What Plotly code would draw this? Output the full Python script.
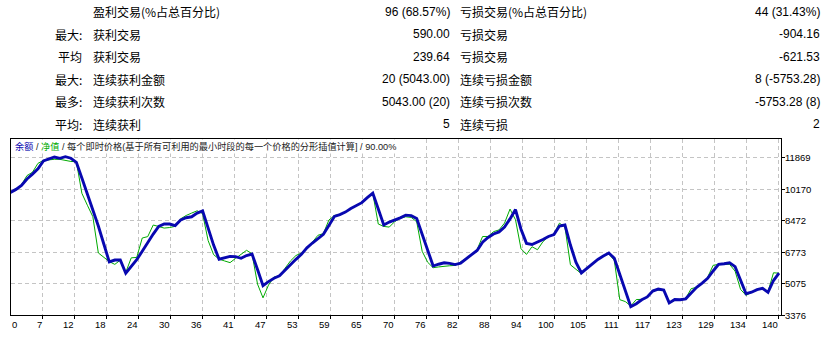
import plotly.graph_objects as go

# ---------------- data ----------------
trade_no = list(range(141))
balance = [
    10000, 10160, 10371, 10723, 10984, 11265, 11697, 11787, 11907, 11832,
    11922, 11840, 11620, 10777, 9924, 9100, 8187, 7217, 6248, 6352,
    6360, 5643, 6012, 6374, 6825, 7300, 7751, 8160, 8295, 8295,
    8210, 8514, 8634, 8684, 8880, 9000, 8076, 7157, 6396, 6467,
    6549, 6535, 6448, 6597, 6677, 5839, 4968, 5191, 5374, 5499,
    5804, 6136, 6392, 6659, 7011, 7271, 7503, 7737, 8215, 8704,
    8800, 8936, 9130, 9298, 9444, 9714, 9958, 9100, 8241, 8401,
    8510, 8627, 8774, 8746, 8590, 7695, 6849, 6030, 6127, 6206,
    6175, 6106, 6180, 6431, 6648, 6870, 7313, 7566, 7755, 7870,
    8134, 8571, 9072, 8015, 7250, 7190, 7306, 7456, 7624, 7726,
    8189, 8241, 7160, 6238, 5659, 5900, 6155, 6385, 6568, 6736,
    6445, 5612, 4700, 3838, 3995, 4209, 4365, 4682, 4786, 4740,
    4043, 4225, 4215, 4263, 4580, 4885, 5110, 5370, 5765, 6123,
    6150, 6200, 5997, 5312, 4540, 4620, 4759, 4834, 4613, 5250,
    5643,
]
equity = [
    10000, 10160, 10413, 10904, 11083, 11562, 11727, 11762, 11780, 11780,
    11723, 11666, 11657, 9952, 9307, 8691, 6736, 6494, 6268, 6120,
    6344, 5692, 6472, 6495, 7540, 7615, 8241, 8158, 8075, 8105,
    8169, 8574, 8754, 8884, 9007, 8853, 7403, 6645, 6402, 6303,
    6213, 6443, 6654, 6877, 6692, 5058, 4316, 5004, 5435, 5495,
    5903, 6302, 6597, 6732, 7024, 7316, 7686, 7780, 8509, 8751,
    8819, 8931, 9112, 9303, 9422, 9755, 9950, 8295, 8165, 8129,
    8425, 8610, 8684, 8650, 8416, 6822, 6232, 5940, 5982, 6025,
    6045, 6063, 6233, 6444, 6648, 6913, 7622, 7622, 7883, 7977,
    8344, 9100, 8523, 6962, 6655, 7070, 6908, 7343, 7622, 7768,
    8339, 8145, 6098, 5880, 5617, 5886, 6156, 6374, 6567, 6689,
    6330, 4217, 4114, 3877, 4225, 4232, 4365, 4732, 4729, 4703,
    4026, 4172, 4172, 4287, 4810, 4885, 5110, 5424, 6068, 6120,
    6120, 6120, 5756, 4771, 4451, 4602, 4759, 4840, 4650, 5667,
    5643,
]
x_tick_labels = ["0", "7", "12", "18", "24", "30", "36", "41", "47", "53", "59", "65",
                 "70", "76", "82", "88", "94", "100", "105", "111", "117", "123",
                 "129", "134", "140"]
y_tick_values = [3376, 5075, 6773, 8472, 10170, 11869]

row_heads = ["", "最大:", "平均", "最大:", "最多:", "平均:"]
win_labels = ["盈利交易(%占总百分比)", "获利交易", "获利交易", "连续获利金额", "连续获利次数", "连续获利"]
win_values = ["96 (68.57%)", "590.00", "239.64", "20 (5043.00)", "5043.00 (20)", "5"]
loss_labels = ["亏损交易(%占总百分比)", "亏损交易", "亏损交易", "连续亏损金额", "连续亏损次数", "连续亏损"]
loss_values = ["44 (31.43%)", "-904.16", "-621.53", "8 (-5753.28)", "-5753.28 (8)", "2"]

# ---------------- layout geometry ----------------
W, H = 828, 339
PL, PR, PT, PB = 10.5, 781.0, 141.5, 320.0
px_per_trade = (779.0 - PL) / 140.0
x_max = (PR - PL) / px_per_trade
val_per_px = (y_tick_values[1] - y_tick_values[0]) / 32.0
y_min = y_tick_values[0]
y_max = y_min + (PB - PT) * val_per_px
grid_vals = [(42 + 32 * k - PL) / px_per_trade for k in range(len(x_tick_labels) - 1)]

BLUE = "#0808b0"
GREEN = "#00aa00"
LAT = "Liberation Sans, Noto Sans CJK SC"
CJK = "Noto Sans CJK SC, Liberation Sans"

fig = go.Figure()
fig.add_trace(go.Scatter(x=trade_no, y=equity, mode="lines",
                         line=dict(color=GREEN, width=1), hoverinfo="skip"))
fig.add_trace(go.Scatter(x=trade_no, y=balance, mode="lines",
                         line=dict(color=BLUE, width=2.9), hoverinfo="skip"))

def px2x(px):
    return px / W

def py2y(py):
    return 1 - py / H

ann = []
row_y = [11.7 + 22.9 * r for r in range(6)]
for r in range(6):
    yy = py2y(row_y[r])
    if row_heads[r]:
        ann.append(dict(text=row_heads[r], x=px2x(84), y=yy, xanchor="right", yanchor="middle",
                        font=dict(family=CJK, size=12, color="#000")))
    ann.append(dict(text=win_labels[r], x=px2x(91), y=yy, xanchor="left", yanchor="middle",
                    font=dict(family=CJK, size=12, color="#000")))
    ann.append(dict(text=win_values[r], x=px2x(452), y=yy, xanchor="right", yanchor="middle",
                    font=dict(family=LAT, size=12, color="#000")))
    ann.append(dict(text=loss_labels[r], x=px2x(458), y=yy, xanchor="left", yanchor="middle",
                    font=dict(family=CJK, size=12, color="#000")))
    ann.append(dict(text=loss_values[r], x=px2x(822), y=yy, xanchor="right", yanchor="middle",
                    font=dict(family=LAT, size=12, color="#000")))

title_txt = ('<span style="color:%s">余额</span> / <span style="color:%s">净值</span> / '
             '每个即时价格(基于所有可利用的最小时段的每一个价格的分形插值计算] / 90.00%%') % (BLUE, GREEN)
ann.append(dict(text=title_txt, x=px2x(13), y=py2y(149), xanchor="left", yanchor="middle",
                bgcolor="white", borderpad=1,
                font=dict(family=LAT, size=9.2, color="#222")))

# x tick labels (right-aligned to their grid line, first one left-aligned at the border)
ann.append(dict(text=x_tick_labels[0], x=0, xref="x", y=0, yref="y domain",
                xanchor="left", yanchor="top", yshift=-2, xshift=-1,
                font=dict(family=LAT, size=9.5, color="#000")))
for v, t in zip(grid_vals, x_tick_labels[1:]):
    ann.append(dict(text=t, x=v, xref="x", y=0, yref="y domain",
                    xanchor="right", yanchor="top", yshift=-2, xshift=2,
                    font=dict(family=LAT, size=9.5, color="#000")))

for a in ann:
    a.setdefault("xref", "paper")
    a.setdefault("yref", "paper")
    a["showarrow"] = False

fig.update_layout(
    width=W, height=H,
    margin=dict(l=0, r=0, t=0, b=0),
    paper_bgcolor="white", plot_bgcolor="white",
    showlegend=False,
    annotations=ann,
    xaxis=dict(domain=[PL / W, PR / W], range=[0, x_max],
               tickvals=grid_vals, showticklabels=False,
               ticks="outside", ticklen=3, tickcolor="#000",
               showgrid=True, gridcolor="#c4c4c4", griddash="4px,3px", gridwidth=1,
               showline=True, linecolor="#000", linewidth=1, mirror=True,
               zeroline=False, fixedrange=True),
    yaxis=dict(domain=[1 - PB / H, 1 - PT / H], range=[y_min, y_max],
               side="right", tickvals=y_tick_values,
               ticktext=[str(v) for v in y_tick_values],
               ticks="outside", ticklen=3, tickcolor="#000",
               ticklabelstandoff=-2,
               tickfont=dict(family=LAT, size=9.5, color="#000"),
               showgrid=True, gridcolor="#c4c4c4", griddash="4px,3px", gridwidth=1,
               showline=True, linecolor="#000", linewidth=1, mirror=True,
               zeroline=False, fixedrange=True),
)

fig.write_html("out.html")
